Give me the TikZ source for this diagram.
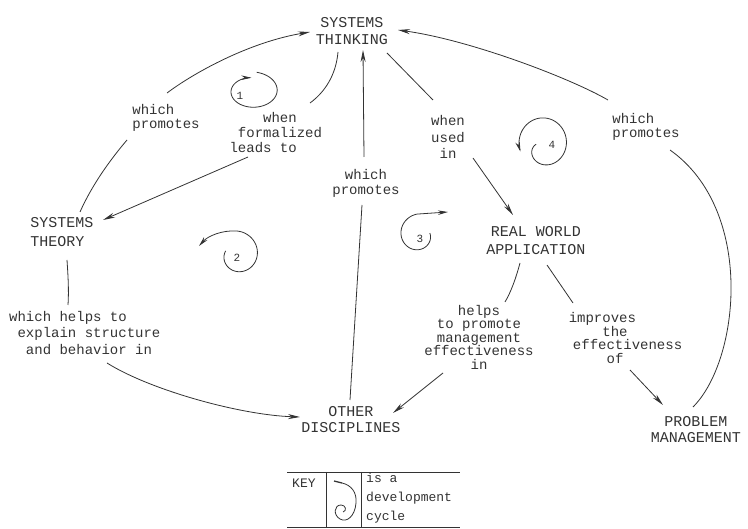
\documentclass[tikz,border=0pt]{standalone}
\usepackage{fontspec}
\newfontfamily\lmono{Liberation Mono}
\usetikzlibrary{arrows.meta}
\begin{document}
\begin{tikzpicture}[x=1pt,y=-1pt,
  every node/.style={inner sep=0pt, text=black!80},
  caps/.style={font=\lmono\fontsize{15}{17}\selectfont, align=center},
  lab/.style={font=\lmono\fontsize{14}{15}\selectfont, align=center},
  labtight/.style={font=\lmono\fontsize{14}{13.5}\selectfont, align=center},
  keyf/.style={font=\lmono\fontsize{13}{19}\selectfont},
  num/.style={font=\lmono\fontsize{11}{12}\selectfont},
  con/.style={draw=black!80, line width=0.8pt},
  arr/.style={con, -{Stealth[length=12pt,width=5pt]}},
  cyc/.style={con, -{Stealth[length=10pt,width=4.5pt]}},
]
\useasboundingbox (0,0) rectangle (748,529);

% main concepts
\node[caps] (ST) at (352,31) {SYSTEMS\\THINKING};
\node[caps, align=left, font=\lmono\fontsize{15}{19}\selectfont] (STH) at (62,232) {SYSTEMS\\THEORY};
\node[caps, font=\lmono\fontsize{15}{16}\selectfont] (OD) at (351,420) {OTHER\\DISCIPLINES};
\node[caps, font=\lmono\fontsize{15}{18}\selectfont] (RWA) at (536,241) {REAL WORLD\\APPLICATION};
\node[caps, font=\lmono\fontsize{15}{16}\selectfont] (PM) at (696,430) {PROBLEM\\MANAGEMENT};

% linking phrases
\node[lab, align=left, font=\lmono\fontsize{14}{14}\selectfont] (L1) at (166,118) {which\\promotes};
\node[lab] (L2) at (280,133) {when\\formalized\\leads to\hphantom{xxxx}};
\node[lab] (L3) at (366,183) {which\\promotes};
\node[lab, font=\lmono\fontsize{14}{16.5}\selectfont] (L4) at (448,137) {when\\used\\in};
\node[lab, align=left, font=\lmono\fontsize{14}{14}\selectfont] (L5) at (646,127) {which\\promotes};
\node[lab, font=\lmono\fontsize{14}{16.5}\selectfont] (L6) at (89,333) {which helps to\hphantom{xxxxx}\\explain structure\\and behavior in};
\node[labtight] (L7) at (479,337) {helps\\to promote\\management\\effectiveness\\in};
\node[labtight] (L8) at (615,338) {improves\hphantom{xxx}\\the\\\hphantom{xxx}effectiveness\\of};

% connectors
\draw[con] ([shift={(18,-20)}]STH.center) .. controls (92,185) and (110,160) .. ([shift={(-39,22)}]L1.center);
\draw[arr] ([shift={(1,-25)}]L1.center) .. controls (195,72) and (250,42) .. ([shift={(-42,1)}]ST.center);

\draw[con] ([shift={(-14,21)}]ST.center) .. controls (336,75) and (325,92) .. ([shift={(30,-30)}]L2.center);
\draw[arr] ([shift={(-32,24)}]L2.center) -- ([shift={(41,-12)}]STH.center);

\draw[con] ([shift={(-1,-20)}]OD.center) -- ([shift={(-4,22)}]L3.center);
\draw[arr] ([shift={(-2,-26)}]L3.center) -- ([shift={(11,19)}]ST.center);

\draw[con] ([shift={(35,22)}]ST.center) -- ([shift={(-15,-37)}]L4.center);
\draw[arr] ([shift={(25,21)}]L4.center) -- ([shift={(-23,-26)}]RWA.center);

\draw[con] ([shift={(-3,-23)}]PM.center) .. controls (740,360) and (755,210) .. ([shift={(24,23)}]L5.center);
\draw[arr] ([shift={(-38,-27)}]L5.center) .. controls (570,78) and (470,40) .. ([shift={(46,-1)}]ST.center);

\draw[con] ([shift={(5,28)}]STH.center) .. controls (68,275) and (69,290) .. ([shift={(-21,-28)}]L6.center);
\draw[arr] ([shift={(18,30)}]L6.center) .. controls (150,390) and (240,415) .. ([shift={(-51,-3)}]OD.center);

\draw[con] ([shift={(-16,22)}]RWA.center) .. controls (516,278) and (511,292) .. ([shift={(26,-35)}]L7.center);
\draw[arr] ([shift={(-36,36)}]L7.center) -- ([shift={(42,-7)}]OD.center);

\draw[con] ([shift={(11,24)}]RWA.center) -- ([shift={(-42,-35)}]L8.center);
\draw[arr] ([shift={(15,32)}]L8.center) -- ([shift={(-33,-25)}]PM.center);

% development cycles
\draw[cyc] plot[domain=0:348, samples=90] ({252+27*(1-0.3*\x/348)*cos(\x-80)}, {91+19*(1-0.3*\x/348)*sin(\x-80)});
\node[num] at (240,96) {1};

\draw[cyc] plot[domain=0:290, samples=80] ({237+(12+12*\x/290)*cos(200-\x)}, {255+(12+12*\x/290)*sin(200-\x)})
  .. controls (222,230) and (208,236) .. (199,246);
\node[num] at (237,258) {2};

\draw[cyc] plot[domain=0:275, samples=80] ({419+(11+10*\x/275)*cos(\x-10)}, {235+(11+10*\x/275)*sin(\x-10)}) -- (448,212);
\node[num] at (420,239) {3};

\draw[cyc] plot[domain=0:370, samples=90] ({543+(24-17*exp(-\x/50))*cos(170-\x)}, {143+1.05*(24-17*exp(-\x/50))*sin(170-\x)});
\node[num] at (552,145) {4};

% key
\draw[con, line width=0.7pt] (287,472) -- (460,472);
\draw[con, line width=0.7pt] (287,527) -- (460,527);
\draw[con, line width=0.7pt] (326,472) -- (326,527);
\draw[con, line width=0.7pt] (361,472) -- (361,527);
\node[keyf, anchor=west] (K) at (292,483) {KEY};
\draw[con, line width=1.3pt] (334,481) -- (342,483);
\draw[con] (342,483) .. controls (351,485) and (357,492) .. (356,503) .. controls (355,516) and (347,523) .. (340,519) .. controls (333,515) and (334,505) .. (341,505) .. controls (346,505) and (347,511) .. (343,512);
\node[keyf, anchor=north west, align=left] (KT) at (366,473) {is a\\development\\cycle};
\end{tikzpicture}
\end{document}
